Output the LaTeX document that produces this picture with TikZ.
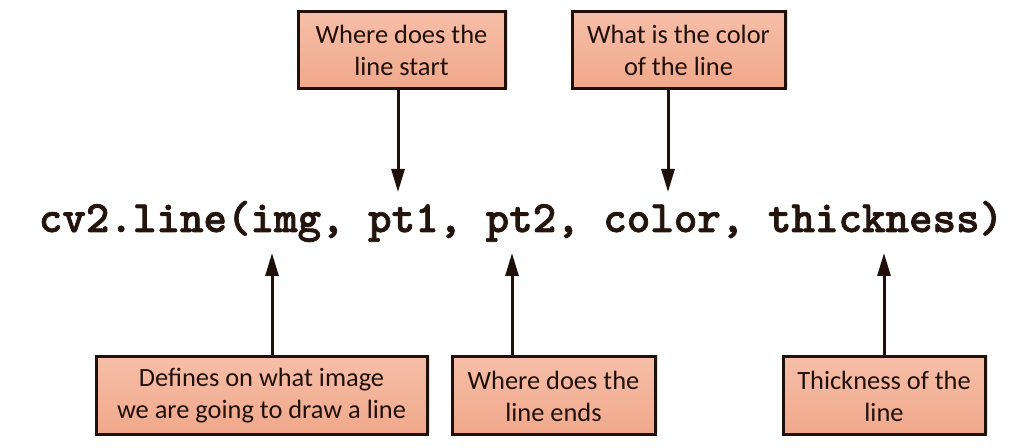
\documentclass[tikz,border=0pt]{standalone}
\usepackage{fontspec}
\setmainfont{Carlito}
\newfontfamily\codefont{lmmonolt10-bold}[Extension=.otf, FakeBold=1.6]
\usetikzlibrary{positioning, shadows, arrows.meta}
\definecolor{note-top}{RGB}{246,190,168}
\definecolor{note-bottom}{RGB}{240,168,138}
\definecolor{note-draw}{RGB}{32,16,12}
\definecolor{code-text}{RGB}{36,20,14}
\tikzset{note/.style={draw=note-draw, line width=1.5pt, top color=note-top, bottom color=note-bottom, text=note-draw, align=center, inner sep=2pt, font=\fontsize{13.2pt}{16pt}\selectfont, drop shadow={shadow xshift=1.5pt, shadow yshift=1.2pt, opacity=0.25}},
  link/.style={draw=note-draw, line width=1.5pt, -{Triangle[length=11.5pt, width=6.5pt]}},
  code/.style={text=code-text, font=\codefont\fontsize{22.4pt}{24pt}\selectfont, inner sep=0pt}}

\begin{document}
\begin{tikzpicture}[x=0.5pt, y=-0.5pt]
    % Canvas in pixels of the reference
    \useasboundingbox (0,0) rectangle (1024,448);

    % The function call
    \node[code, anchor=base] (call) at (521,232) {cv2.line(img, pt1, pt2, color, thickness)};

    % Where each arrow meets the call
    \coordinate (pt1-tip) at (398,192);
    \coordinate (color-tip) at (668,192);
    \coordinate (img-tip) at (272,253);
    \coordinate (pt2-tip) at (512,253);
    \coordinate (thick-tip) at (884,253);

    % Notes above the call
    \node[note, minimum width=103.5pt, minimum height=38.5pt] (start) at (401.5,50.5) {Where does the\\line start};
    \node[note, minimum width=106.5pt, minimum height=38.5pt] (color) at (678.5,50.5) {What is the color\\of the line};

    % Notes below the call
    \node[note, minimum width=165.5pt, minimum height=39pt] (image) at (261.5,396) {Defines on what image\\we are going to draw a line};
    \node[note, minimum width=101.5pt, minimum height=39pt] (end) at (553.5,396) {Where does the\\line ends};
    \node[note, minimum width=101pt, minimum height=39pt] (thick) at (884,396) {Thickness of the\\line};

    % Arrows
    \draw[link] (start.south -| pt1-tip) -- (pt1-tip);
    \draw[link] (color.south -| color-tip) -- (color-tip);
    \draw[link] (image.north -| img-tip) -- (img-tip);
    \draw[link] (end.north -| pt2-tip) -- (pt2-tip);
    \draw[link] (thick.north -| thick-tip) -- (thick-tip);
\end{tikzpicture}
\end{document}
